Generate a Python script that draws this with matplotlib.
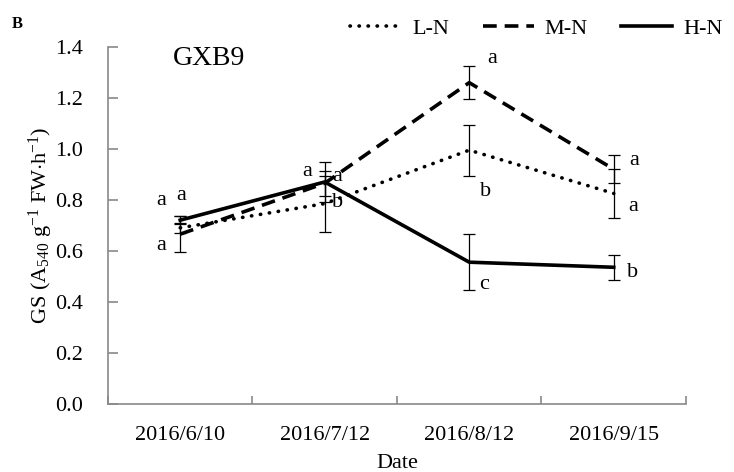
import numpy as np
import matplotlib
matplotlib.use("Agg")
import matplotlib.pyplot as plt

# Sampling dates and group means / SE for GXB9
dates = ["2016/6/10", "2016/7/12", "2016/8/12", "2016/9/15"]
ln_mean = [0.69, 0.785, 0.995, 0.825]
ln_err = [0.02, 0.11, 0.10, 0.095]
mn_mean = [0.665, 0.865, 1.26, 0.92]
mn_err = [0.07, 0.05, 0.066, 0.055]
hn_mean = [0.72, 0.87, 0.555, 0.535]
hn_err = [0.015, 0.08, 0.11, 0.048]

# significance letters: (date index, letter)
letters = [(0, "a"), (0, "a"), (0, "a"),
           (1, "a"), (1, "a"), (1, "b"),
           (2, "a"), (2, "b"), (2, "c"),
           (3, "a"), (3, "a"), (3, "b")]
# where each letter sits relative to its date (dx, y)
letter_pos = [(-0.13, 0.797), (0.007, 0.817), (-0.13, 0.62),
              (-0.12, 0.911), (0.087, 0.891), (0.087, 0.788),
              (0.16, 1.353), (0.11, 0.831), (0.10, 0.467),
              (0.14, 0.953), (0.135, 0.773), (0.13, 0.514)]

plt.rcParams["font.family"] = ["Liberation Serif", "DejaVu Serif"]
plt.rcParams["mathtext.fontset"] = "custom"
plt.rcParams["mathtext.rm"] = "Liberation Serif"
plt.rcParams["mathtext.it"] = "Liberation Serif:italic"

fig = plt.figure(figsize=(7.34, 4.72), dpi=100)
ax = fig.add_axes([0.1471, 0.1451, 0.7875, 0.7553])

x = np.arange(len(dates))
err_kw = dict(ecolor="black", elinewidth=0.9, capsize=4, capthick=0.9)

ax.errorbar(x, ln_mean, yerr=ln_err, color="black", lw=2.6,
            linestyle=(0, (0.1, 2.4)), dash_capstyle="round", label="L-N", **err_kw)
ax.errorbar(x, mn_mean, yerr=mn_err, color="black", lw=2.6,
            linestyle=(0, (3.8, 2.2)), label="M-N", **err_kw)
ax.errorbar(x, hn_mean, yerr=hn_err, color="black", lw=2.6,
            linestyle="-", label="H-N", **err_kw)

for (i, s), (dx, y) in zip(letters, letter_pos):
    ax.text(i + dx, y, s, ha="center", va="center", fontsize=16)

ax.set_xlim(-0.5, 3.5)
ax.set_ylim(0, 1.4)
ax.set_yticks(np.arange(0, 1.41, 0.2))
ax.set_yticklabels([f"{v:.1f}" for v in np.arange(0, 1.41, 0.2)])
ax.set_xticks(x)
ax.set_xticklabels(dates)
ax.set_xticks(np.arange(-0.5, 3.6, 1), minor=True)

ax.tick_params(axis="x", which="major", length=0, pad=16, labelsize=16)
ax.tick_params(axis="x", which="minor", direction="in", length=6, width=1.2, color="#898989")
ax.tick_params(axis="y", direction="in", length=7, width=1.2, color="#898989", labelsize=16)
ax.tick_params(axis="y", pad=18)

for side in ["top", "right"]:
    ax.spines[side].set_visible(False)
for side in ["left", "bottom"]:
    ax.spines[side].set_color("#898989")
    ax.spines[side].set_linewidth(1.2)

ax.set_xlabel("Date", fontsize=16)
ax.set_ylabel(r"GS (A$_{540}$ g$^{-1}$ FW$\cdot$h$^{-1}$)", fontsize=16)
ax.xaxis.set_label_coords(0.5, -0.143)
ax.yaxis.set_label_coords(-0.092, 0.5)

ax.text(0.112, 0.969, "GXB9", transform=ax.transAxes, fontsize=20, ha="left", va="center")
fig.text(0.016, 0.949, "B", fontsize=12, fontweight="bold", ha="left", va="center")

handles, labels = ax.get_legend_handles_labels()
fig.legend([h[0] for h in handles], labels, ncol=3, loc="center right",
           bbox_to_anchor=(1.012, 0.94), frameon=False, fontsize=16,
           handlelength=2.3, handletextpad=0.5, columnspacing=1.5)

fig.savefig("out.png", dpi=100)
